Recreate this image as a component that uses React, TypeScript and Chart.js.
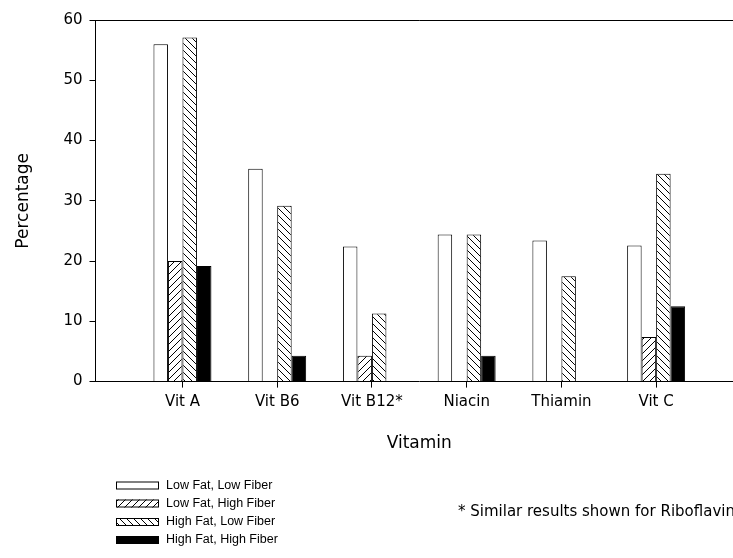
import React, { useEffect, useRef } from "react";
import { Chart, registerables } from "chart.js";

Chart.register(...registerables);

const categories = ["Vit A", "Vit B6", "Vit B12*", "Niacin", "Thiamin", "Vit C"];
const seriesNames = [
  "Low Fat, Low Fiber",
  "Low Fat, High Fiber",
  "High Fat, Low Fiber",
  "High Fat, High Fiber",
];
const lowFatLowFiber = [56, 35.3, 22.4, 24.4, 23.4, 22.6];
const lowFatHighFiber = [20, null, 4.3, null, null, 7.4];
const highFatLowFiber = [57.1, 29.2, 11.3, 24.4, 17.5, 34.5];
const highFatHighFiber = [19.2, 4.3, null, 4.3, null, 12.5];
const yTicks = [0, 10, 20, 30, 40, 50, 60];
const footnote = "* Similar results shown for Riboflavin";

const FONT = "'DejaVu Sans', 'Liberation Sans', Arial, sans-serif";
const LEGEND_FONT = "'Liberation Sans', Arial, Helvetica, sans-serif";

function makeHatch(kind: "fwd" | "back"): CanvasPattern | string {
  const s = 7;
  const c = document.createElement("canvas");
  c.width = s;
  c.height = s;
  const g = c.getContext("2d");
  if (!g) return "#fff";
  g.fillStyle = "#fff";
  g.fillRect(0, 0, s, s);
  g.strokeStyle = "#000";
  g.lineWidth = 1;
  g.beginPath();
  for (const k of [-s, 0, s]) {
    if (kind === "fwd") {
      g.moveTo(k, s);
      g.lineTo(k + s, 0);
    } else {
      g.moveTo(k, 0);
      g.lineTo(k + s, s);
    }
  }
  g.stroke();
  const p = g.createPattern(c, "repeat");
  return p || "#fff";
}

export default function App() {
  const ref = useRef<HTMLCanvasElement>(null);

  useEffect(() => {
    if (!ref.current) return;
    const fwd = makeHatch("fwd");
    const back = makeHatch("back");
    const fills: (CanvasPattern | string)[] = ["#ffffff", fwd, back, "#000000"];
    const series = [lowFatLowFiber, lowFatHighFiber, highFatLowFiber, highFatHighFiber];

    const frame = {
      id: "frameAndLegend",
      afterDraw(chart: any) {
        const { ctx, chartArea } = chart;
        ctx.save();
        ctx.strokeStyle = "#000";
        ctx.lineWidth = 1;
        ctx.beginPath();
        ctx.moveTo(chartArea.left, Math.round(chartArea.top) + 0.5);
        ctx.lineTo(chartArea.right, Math.round(chartArea.top) + 0.5);
        ctx.stroke();
        const rows = [477.5, 495.5, 514, 532];
        ctx.font = `12.5px ${LEGEND_FONT}`;
        ctx.textBaseline = "middle";
        ctx.textAlign = "left";
        seriesNames.forEach((name, i) => {
          const y = rows[i];
          ctx.fillStyle = fills[i];
          ctx.fillRect(108, y - 4, 43, 8);
          ctx.strokeStyle = "#000";
          ctx.strokeRect(108.5, y - 3.5, 42, 7);
          ctx.fillStyle = "#000";
          ctx.fillText(name, 158, y);
        });
        ctx.font = `15px ${FONT}`;
        ctx.fillText(footnote, 450, 504.5);
        ctx.restore();
      },
    };

    const chart = new Chart(ref.current, {
      type: "bar",
      data: {
        datasets: series.map((vals, si) => ({
          label: seriesNames[si],
          data: vals.map((v, i) => ({ x: i + 1, y: v })),
          backgroundColor: fills[si],
          borderColor: "#000",
          borderWidth: 1,
          categoryPercentage: 0.612,
          barPercentage: 1,
        })),
      },
      options: {
        responsive: false,
        animation: false,
        devicePixelRatio: 1,
        layout: { padding: { top: 3, right: 10, left: 0, bottom: 104 } },
        plugins: { legend: { display: false }, tooltip: { enabled: false } },
        scales: {
          x: {
            type: "linear",
            offset: false,
            min: 0.082,
            max: 6.917,
            afterBuildTicks: (scale: any) => {
              scale.ticks = categories.map((_, i) => ({ value: i + 1 }));
            },
            ticks: {
              autoSkip: false,
              maxRotation: 0,
              padding: 6,
              color: "#000",
              font: { family: FONT, size: 15 },
              callback: (v: any) => categories[Number(v) - 1] ?? "",
            },
            grid: {
              display: true,
              offset: false,
              drawOnChartArea: false,
              drawTicks: true,
              tickLength: 6,
              color: "#000",
            },
            border: { display: true, color: "#000", width: 1 },
            title: {
              display: true,
              text: "Vitamin",
              color: "#000",
              font: { family: FONT, size: 17 },
              padding: { top: 16, bottom: 0 },
            },
          },
          y: {
            type: "linear",
            min: 0,
            max: 60,
            afterBuildTicks: (scale: any) => {
              scale.ticks = yTicks.map((v) => ({ value: v }));
            },
            ticks: {
              padding: 7,
              color: "#000",
              font: { family: FONT, size: 15, lineHeight: 0.67 },
            },
            grid: {
              display: true,
              drawOnChartArea: false,
              drawTicks: true,
              tickLength: 6,
              color: "#000",
            },
            border: { display: true, color: "#000", width: 1 },
            title: {
              display: true,
              text: "Percentage",
              color: "#000",
              font: { family: FONT, size: 17 },
              padding: { top: 5, bottom: 23 },
            },
          },
        },
      },
      plugins: [frame],
    } as any);
    return () => chart.destroy();
  }, []);

  return (
    <div style={{ position: "fixed", left: 8, top: 8, width: 745, height: 550 }}>
      <canvas ref={ref} width={745} height={550} style={{ display: "block" }} />
    </div>
  );
}
